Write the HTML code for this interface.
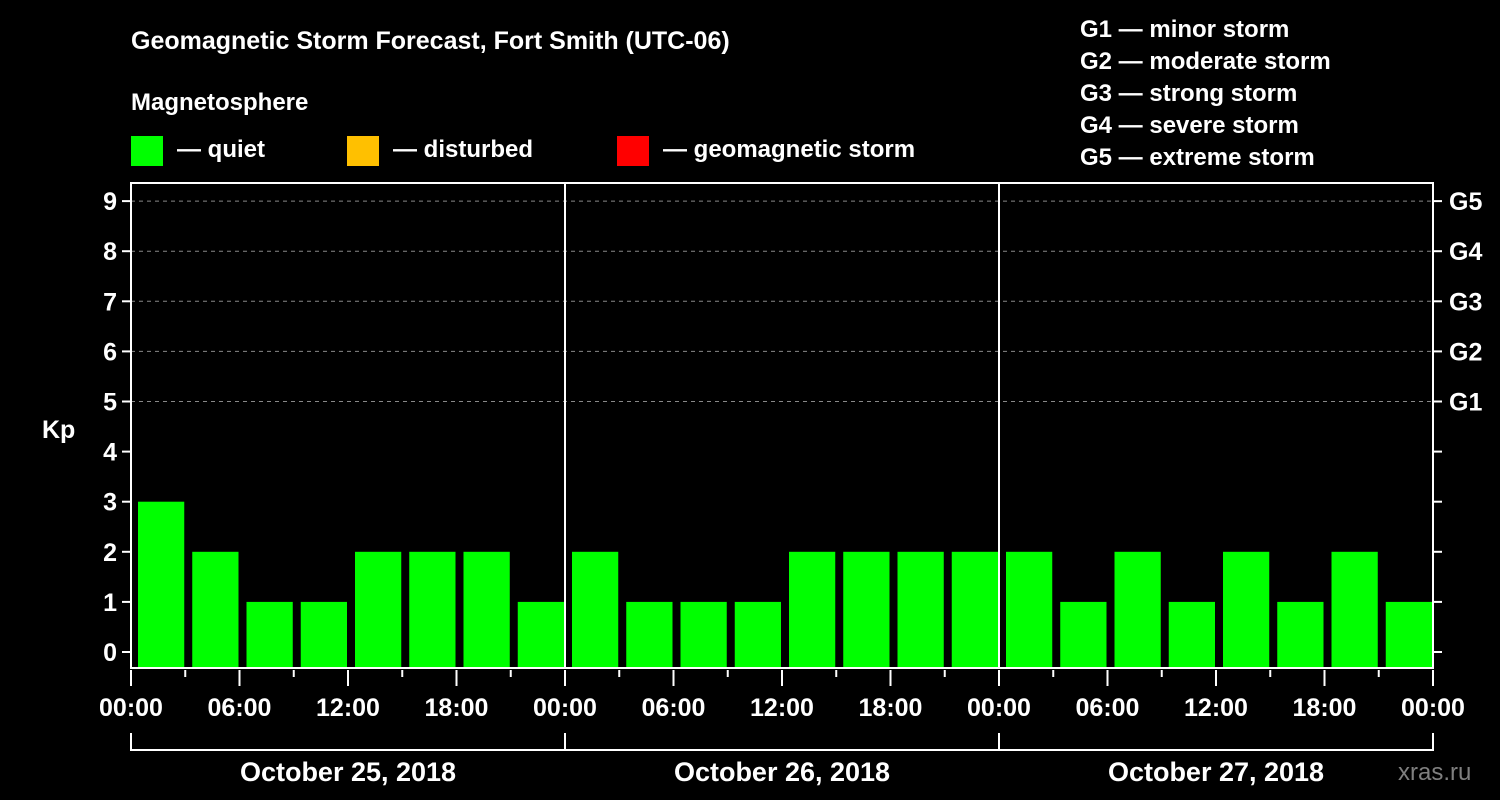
<!DOCTYPE html>
<html><head><meta charset="utf-8"><style>
html,body{margin:0;padding:0;background:#000;}
svg{display:block;font-family:"Liberation Sans",Arial,sans-serif;font-weight:bold;}
</style></head><body>
<svg id="c" width="1500" height="800" viewBox="0 0 1500 800">
<text x="131" y="49" fill="#fff" font-size="25">Geomagnetic Storm Forecast, Fort Smith (UTC-06)</text>
<text x="131" y="110" fill="#fff" font-size="24">Magnetosphere</text>
<rect x="131" y="136" width="32" height="30" fill="#00ff00"/>
<text x="177" y="157" fill="#fff" font-size="24">— quiet</text>
<rect x="347" y="136" width="32" height="30" fill="#ffc000"/>
<text x="393" y="157" fill="#fff" font-size="24">— disturbed</text>
<rect x="617" y="136" width="32" height="30" fill="#ff0000"/>
<text x="663" y="157" fill="#fff" font-size="24">— geomagnetic storm</text>
<g fill="#fff" font-size="24">
<text x="1080" y="37">G1 — minor storm</text>
<text x="1080" y="69">G2 — moderate storm</text>
<text x="1080" y="101">G3 — strong storm</text>
<text x="1080" y="133">G4 — severe storm</text>
<text x="1080" y="165">G5 — extreme storm</text>
</g>
<text x="42" y="438" fill="#fff" font-size="25">Kp</text>
<text x="1590" y="780" fill="#888" font-size="24"></text>
<text x="1398" y="780" fill="#7f7f7f" font-size="24" font-weight="normal">xras.ru</text>
<g id="plot"></g>
</svg>
<script>
const kpValues=[3,2,1,1,2,2,2,1, 2,1,1,1,2,2,2,2, 2,1,2,1,2,1,2,1];
const yTicks=[0,1,2,3,4,5,6,7,8,9];
const gLabels=["G1","G2","G3","G4","G5"];
const xTickLabels=["00:00","06:00","12:00","18:00","00:00","06:00","12:00","18:00","00:00","06:00","12:00","18:00","00:00"];
const dayLabels=["October 25, 2018","October 26, 2018","October 27, 2018"];
const NS="http://www.w3.org/2000/svg";
const L=131,R=1433,T=183,B=668;
const slot=(R-L)/kpValues.length;
const y=v=>652-v*50.1;
const x=i=>L+i*slot;
const g=document.getElementById('plot');
function mk(tag,a,p){const e=document.createElementNS(NS,tag);for(const k in a)e.setAttribute(k,a[k]);(p||g).appendChild(e);return e;}
yTicks.forEach(v=>{
 if(v>=5){const l=mk('line',{x1:L,x2:R,y1:y(v),y2:y(v),stroke:'#888','stroke-dasharray':'4,4','stroke-width':1});
 
 }
 const t=mk('line',{x1:L-9,x2:L,y1:y(v),y2:y(v),stroke:'#fff','stroke-width':2});
 
 
 const t2=mk('line',{x1:R,x2:R+9,y1:y(v),y2:y(v),stroke:'#fff','stroke-width':2});
 
 
 const tx=mk('text',{x:L-14,y:y(v)+9,fill:'#fff','font-size':25,'text-anchor':'end'});tx.textContent=v;
 
 
});
gLabels.forEach((s,i)=>{
 const tx=mk('text',{x:R+16,y:y(5+i)+9,fill:'#fff','font-size':25});tx.textContent=s;
 
 
});
kpValues.forEach((v,i)=>{
 const c=v>=5?'#ff0000':(v>=4?'#ffc000':'#00ff00');
 const r=mk('rect',{x:x(i)+7,y:y(v),width:slot-8,height:B-y(v),fill:c});
 
 
});
const fr=mk('rect',{x:L,y:T,width:R-L,height:B-T,fill:'none',stroke:'#fff','stroke-width':2});


for(let d=1;d<dayLabels.length;d++){
 const l=mk('line',{x1:x(d*8),x2:x(d*8),y1:T,y2:B,stroke:'#fff','stroke-width':2});
 
 
}
for(let i=0;i<=kpValues.length;i++){
 const major=i%2===0;
 const t=mk('line',{x1:x(i),x2:x(i),y1:B+2,y2:major?686:677,stroke:'#fff','stroke-width':2});
 
 
}
xTickLabels.forEach((s,i)=>{
 const tx=mk('text',{x:x(i*2),y:716,fill:'#fff','font-size':25,'text-anchor':'middle'});tx.textContent=s;
 
 
});
dayLabels.forEach((s,d)=>{
 const x0=x(d*8),x1=x((d+1)*8);
 const p=mk('path',{d:`M${x0},733V750H${x1}V733`,fill:'none',stroke:'#fff','stroke-width':2});
 
 
 const tx=mk('text',{x:(x0+x1)/2,y:781,fill:'#fff','font-size':27,'text-anchor':'middle'});tx.textContent=s;
 
 
});
</script>
</body></html>
